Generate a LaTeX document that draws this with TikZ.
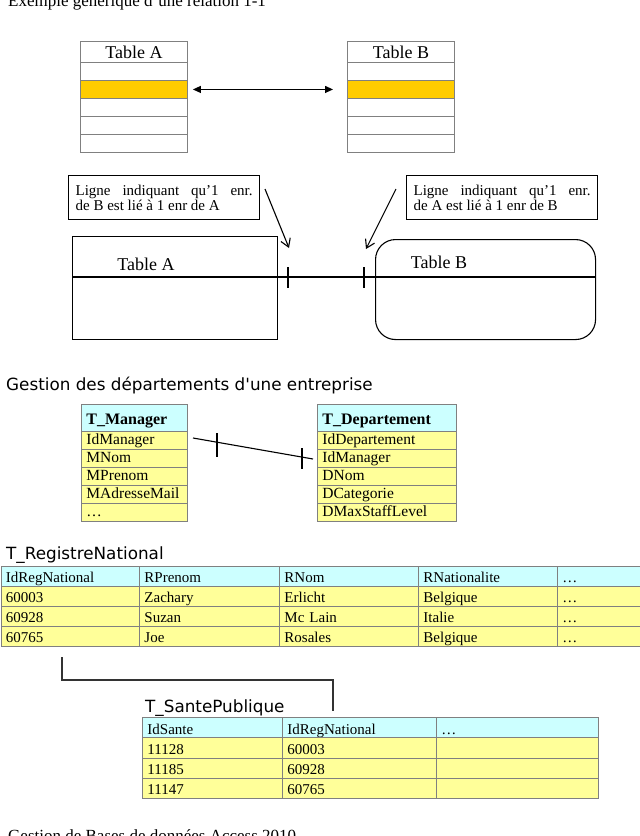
\documentclass[tikz,border=0pt]{standalone}
\usepackage{fontspec}
\setmainfont{Liberation Serif}
\newfontfamily\comicf{DejaVu Sans}
\usetikzlibrary{arrows.meta}
\definecolor{orng}{HTML}{FFCC00}
\definecolor{hdrc}{HTML}{CCFFFF}
\definecolor{ylw}{HTML}{FFFF99}
\definecolor{bord}{HTML}{808080}
\newcommand\fs[1]{\fontsize{#1}{#1}\selectfont}
\tikzset{
  cellbox/.style={draw=bord, line width=0.9pt, anchor=north west, inner xsep=5pt, inner ysep=0pt, align=left},
  hi/.style={text height=13pt, text depth=0pt},
  lo/.style={text height=11pt, text depth=2pt},
  topcell/.style={draw=bord, line width=0.9pt, anchor=north west, inner sep=0pt, align=center, minimum width=107pt},
  notebox/.style={draw=black, line width=1.2pt, anchor=north west, inner xsep=7pt, inner ysep=0pt, minimum height=44pt, text width=177pt, align=justify, font=\fontsize{15}{15}\selectfont},
  heading/.style={anchor=base west, inner sep=0pt, font=\comicf\fontsize{16.8}{19}\selectfont},
  plain/.style={anchor=base west, inner sep=0pt, font=\fontsize{17}{20}\selectfont},
  conn/.style={line width=1.1pt, black},
  tick/.style={line width=1.1pt, black},
  notearrow/.style={line width=1.1pt, -{Straight Barb[length=8pt,width=10pt,line width=1.1pt]}},
}
\newcommand\mkcell[8]{\node[cellbox, #6, font=#7, minimum height=#5pt, text width=\dimexpr #4pt-10pt\relax] (#1) at (#2,#3) {#8};}
\begin{document}
\begin{tikzpicture}[x=1pt,y=-1pt]
\useasboundingbox (0,0) rectangle (640,836);
\clip (0,0) rectangle (640,836);
\fill[white] (0,0) rectangle (640,836);

% title and footer
\node[plain] (title) at (8,6) {Exemple générique d’une relation 1-1};
\node[plain] (footer) at (8,841) {Gestion de Bases de données Access 2010};

% top tables
\foreach \n/\x/\t in {a/80/Table A, b/347/Table B}{
  \node[topcell, minimum height=21pt, font=\fs{18}] (t\n0) at (\x,41) {\t};
  \node[topcell, minimum height=18pt] (t\n1) at (\x,62) {};
  \node[topcell, minimum height=18pt, fill=orng] (t\n2) at (\x,80) {};
  \node[topcell, minimum height=18pt] (t\n3) at (\x,98) {};
  \node[topcell, minimum height=18pt] (t\n4) at (\x,116) {};
  \node[topcell, minimum height=18pt] (t\n5) at (\x,134) {};
}
\draw[line width=1.2pt, {Triangle[length=8pt,width=7pt]}-{Triangle[length=8pt,width=7pt]}] ([xshift=5pt]ta2.east) -- ([xshift=-14pt]tb2.west);

% notes
\node[notebox] (n1) at (68,175) {Ligne indiquant qu’1 enr.\linebreak de B est lié à 1 enr de A};
\node[notebox] (n2) at (406,175) {Ligne indiquant qu’1 enr.\linebreak de A est lié à 1 enr de B};

% lower tables
\node[draw, line width=1.1pt, anchor=north west, minimum width=205pt, minimum height=103pt, inner sep=0pt] (TA) at (72,236) {};
\node[draw, line width=1.1pt, anchor=north west, minimum width=220pt, minimum height=100pt, inner sep=0pt, rounded corners=20pt] (TB) at (375,239) {};
\node[anchor=center, font=\fs{18}] (TAl) at (146,264) {Table A};
\node[anchor=center, font=\fs{18}] (TBl) at (439,262) {Table B};
\coordinate (hA) at (72,277);
\coordinate (hB) at (595,277);
\draw[conn] (hA) -- (hB);
\coordinate (k1t) at (288,267); \coordinate (k1b) at (288,288);
\coordinate (k2t) at (364,267); \coordinate (k2b) at (364,288);
\draw[tick] (k1t) -- (k1b);
\draw[tick] (k2t) -- (k2b);
\coordinate (a1s) at (265,189); \coordinate (a1e) at (289,248);
\coordinate (a2s) at (396,189); \coordinate (a2e) at (366,249);
\draw[notearrow] (a1s) -- (a1e);
\draw[notearrow] (a2s) -- (a2e);

% section 2
\node[heading] (h2) at (6,390) {Gestion des départements d'une entreprise};
\mkcell{m0}{81}{404}{106}{27}{fill=hdrc,hi}{\bfseries\fs{16}}{T\_Manager}
\mkcell{d0}{317}{404}{139}{27}{fill=hdrc,hi}{\bfseries\fs{16}}{T\_Departement}
\foreach \i/\y/\ma/\db in {1/431/IdManager/IdDepartement, 2/449/MNom/IdManager, 3/467/MPrenom/DNom, 4/485/MAdresseMail/DCategorie, 5/503/…/DMaxStaffLevel}{
  \mkcell{m\i}{81}{\y}{106}{18}{fill=ylw,lo}{\fs{15.5}}{\ma}
  \mkcell{d\i}{317}{\y}{139}{18}{fill=ylw,lo}{\fs{15.5}}{\db}
}
\coordinate (l1) at (193,438); \coordinate (l2) at (313,459);
\draw[conn] (l1) -- (l2);
\coordinate (q1t) at (217,433); \coordinate (q1b) at (217,457);
\coordinate (q2t) at (302,448); \coordinate (q2b) at (302,469);
\draw[tick] (q1t) -- (q1b);
\draw[tick] (q2t) -- (q2b);

% registre national
\node[heading] (h3) at (6,559) {T\_RegistreNational};
\foreach \c/\x/\w/\t in {1/0.5/138.5/IdRegNational, 2/139/140/RPrenom, 3/279/139/RNom, 4/418/139/RNationalite, 5/557/95/…}{
  \mkcell{rh\c}{\x}{566}{\w}{20}{fill=hdrc,hi}{\fs{15}}{\t}}
\foreach \c/\x/\w/\t in {1/0.5/138.5/60003, 2/139/140/Zachary, 3/279/139/Erlicht, 4/418/139/Belgique, 5/557/95/…}{
  \mkcell{ra\c}{\x}{586}{\w}{20}{fill=ylw,hi}{\fs{15}}{\t}}
\foreach \c/\x/\w/\t in {1/0.5/138.5/60928, 2/139/140/Suzan, 3/279/139/Mc Lain, 4/418/139/Italie, 5/557/95/…}{
  \mkcell{rb\c}{\x}{606}{\w}{20}{fill=ylw,hi}{\fs{15}}{\t}}
\foreach \c/\x/\w/\t in {1/0.5/138.5/60765, 2/139/140/Joe, 3/279/139/Rosales, 4/418/139/Belgique, 5/557/95/…}{
  \mkcell{rc\c}{\x}{626}{\w}{20}{fill=ylw,hi}{\fs{15}}{\t}}

% link bracket
\coordinate (b1) at (62,657); \coordinate (b2) at (62,680);
\coordinate (b3) at (333,680); \coordinate (b4) at (333,711);
\draw[line width=1.2pt, black!80] (b1) -- (b2) -- (b3) -- (b4);

% sante publique
\node[heading] (h4) at (145,712) {T\_SantePublique};
\foreach \c/\x/\w/\t in {1/142/140/IdSante, 2/282/154/IdRegNational, 3/436/162/…}{
  \mkcell{sh\c}{\x}{717}{\w}{20.25}{fill=hdrc,hi}{\fs{15}}{\t}}
\foreach \c/\x/\w/\t in {1/142/140/11128, 2/282/154/60003, 3/436/162/}{
  \mkcell{sa\c}{\x}{737.25}{\w}{20.25}{fill=ylw,hi}{\fs{15}}{\t}}
\foreach \c/\x/\w/\t in {1/142/140/11185, 2/282/154/60928, 3/436/162/}{
  \mkcell{sb\c}{\x}{757.5}{\w}{20.25}{fill=ylw,hi}{\fs{15}}{\t}}
\foreach \c/\x/\w/\t in {1/142/140/11147, 2/282/154/60765, 3/436/162/}{
  \mkcell{sc\c}{\x}{777.75}{\w}{20.25}{fill=ylw,hi}{\fs{15}}{\t}}
\end{tikzpicture}
\end{document}
